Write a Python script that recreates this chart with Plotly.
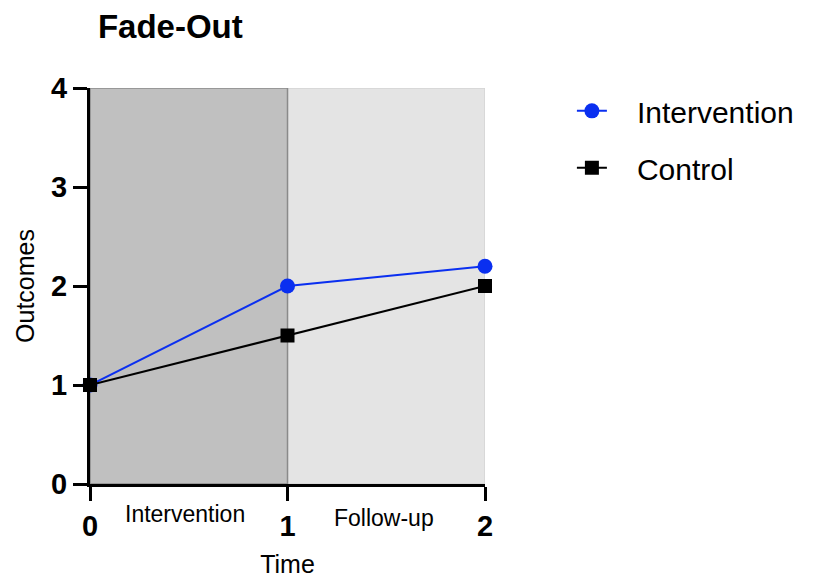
import plotly.graph_objects as go

# data
time_points = [0, 1, 2]
intervention = [1.0, 2.0, 2.2]
control = [1.0, 1.5, 2.0]
phase_labels = ["Intervention", "Follow-up"]
phase_centers = [0.48, 1.49]

FONT = "Arial, 'Liberation Sans', Helvetica, sans-serif"
BLUE = "#0a2ff0"
PHASE_LABEL_Y = [-0.076, -0.086]  # paper coords, below the x axis
PAD = "&nbsp;&nbsp;&nbsp;"  # gap between legend symbol and text

fig = go.Figure()

fig.add_trace(go.Scatter(
    x=time_points, y=intervention, name=PAD + "Intervention",
    mode="lines+markers", legendgroup="a",
    line=dict(color=BLUE, width=2),
    marker=dict(symbol="circle", size=15, color=BLUE),
    cliponaxis=False,
))
fig.add_trace(go.Scatter(
    x=time_points, y=control, name=PAD + "Control",
    mode="lines+markers", legendgroup="b",
    line=dict(color="black", width=2),
    marker=dict(symbol="square", size=14, color="black"),
    cliponaxis=False,
))

# shaded phases
fig.add_shape(type="rect", x0=1, x1=2, y0=0, y1=4, layer="below",
              fillcolor="#e4e4e4", line=dict(color="#d4d4d4", width=1.5))
fig.add_shape(type="rect", x0=0, x1=1, y0=0, y1=4, layer="below",
              fillcolor="#c0c0c0", line=dict(color="#8a8a8a", width=1.5))

for label, cx, ly in zip(phase_labels, phase_centers, PHASE_LABEL_Y):
    fig.add_annotation(x=cx, y=ly, xref="x", yref="paper", text=label,
                       showarrow=False, yanchor="middle",
                       font=dict(family=FONT, size=23, color="black"))

# the page body adds an 8px margin, so the margins are shifted to compensate
fig.update_layout(
    width=813, height=581,
    margin=dict(l=82, r=336, t=80, b=105),
    paper_bgcolor="white", plot_bgcolor="white",
    font=dict(family=FONT, color="black"),
    title=dict(text="<b>Fade-Out</b>", x=0.02, xanchor="left", xref="paper",
               y=0.969, yanchor="middle", font=dict(size=33, family=FONT)),
    legend=dict(x=1.22, y=1.008, xanchor="left", yanchor="top",
                font=dict(size=30, family=FONT), tracegroupgap=15,
                traceorder="grouped", bgcolor="rgba(0,0,0,0)"),
    xaxis=dict(range=[0, 2], tickvals=[0, 1, 2], showgrid=False, zeroline=False,
               showline=True, linecolor="black", linewidth=3,
               ticks="outside", ticklen=14, tickwidth=3, tickcolor="black",
               tickfont=dict(size=29, family=FONT, weight="bold"),
               title=dict(text="Time", font=dict(size=25), standoff=15)),
    yaxis=dict(range=[0, 4], tickvals=[0, 1, 2, 3, 4], showgrid=False, zeroline=False,
               showline=True, linecolor="black", linewidth=3,
               ticks="outside", ticklen=14, tickwidth=3, tickcolor="black",
               tickfont=dict(size=29, family=FONT, weight="bold"),
               title=dict(text="Outcomes", font=dict(size=25), standoff=10)),
)

fig.write_html("out.html")
